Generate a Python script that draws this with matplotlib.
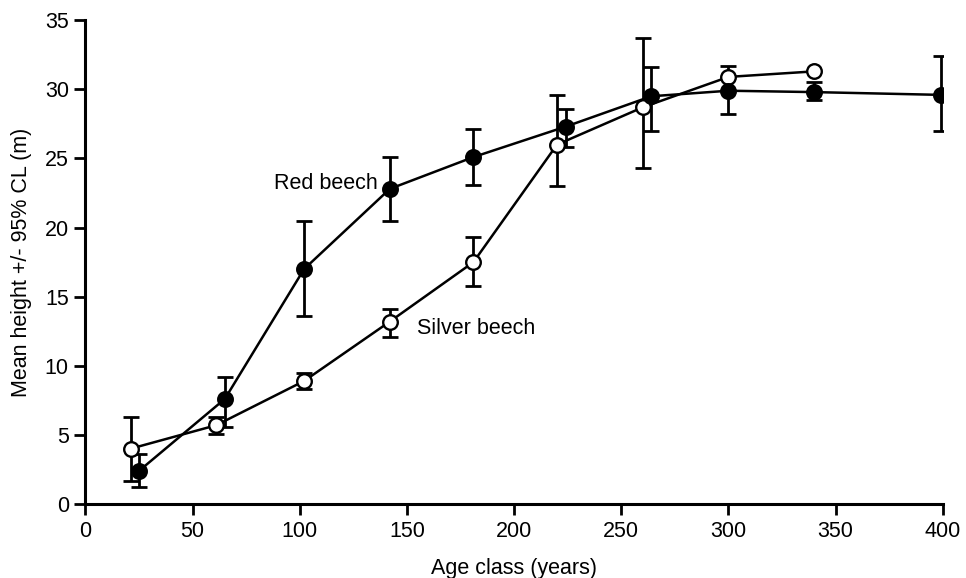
import numpy as np
import matplotlib
matplotlib.use("Agg")
import matplotlib.pyplot as plt

# red beech (filled circles)
redAge = [25, 65, 102, 142, 181, 224, 264, 300, 340, 399]
redHeight = [2.4, 7.6, 17.0, 22.8, 25.1, 27.3, 29.5, 29.9, 29.8, 29.6]
redLow = [1.2, 5.6, 13.6, 20.5, 23.1, 25.8, 27.0, 28.2, 29.2, 27.0]
redHigh = [3.6, 9.2, 20.5, 25.1, 27.1, 28.6, 31.6, 31.7, 30.5, 32.4]

# silver beech (open circles), no CL shown for last two classes
silverAge = [21, 61, 102, 142, 181, 220, 260, 300, 340]
silverHeight = [4.0, 5.7, 8.9, 13.2, 17.5, 26.0, 28.7, 30.9, 31.3]
silverLow = [1.7, 5.1, 8.3, 12.1, 15.8, 23.0, 24.3, np.nan, np.nan]
silverHigh = [6.3, 6.3, 9.45, 14.1, 19.3, 29.6, 33.7, np.nan, np.nan]

xTicks = [0, 50, 100, 150, 200, 250, 300, 350, 400]
yTicks = [0, 5, 10, 15, 20, 25, 30, 35]

plt.rcParams['font.family'] = ['Liberation Sans', 'DejaVu Sans']
plt.rcParams['font.size'] = 15.5


def drawSeries(ax, age, height, low, high, face):
    age = np.array(age, dtype='float')
    height = np.array(height, dtype='float')
    low = np.array(low, dtype='float')
    high = np.array(high, dtype='float')
    ok = ~np.isnan(low)
    yerr = np.array([height[ok] - low[ok], high[ok] - height[ok]])
    ax.errorbar(age[ok], height[ok], yerr=yerr, fmt='none', ecolor='black',
                elinewidth=2.0, capsize=6, capthick=2.0, zorder=2)
    ax.plot(age, height, color='black', linewidth=1.8, marker='o',
            markersize=10.5, markerfacecolor=face, markeredgecolor='black',
            markeredgewidth=1.7, zorder=3)


fig = plt.figure(figsize=(9.66, 5.78), dpi=100)
ax = fig.add_axes([0.0885, 0.128, 0.8875, 0.837])

drawSeries(ax, silverAge, silverHeight, silverLow, silverHigh, 'white')
drawSeries(ax, redAge, redHeight, redLow, redHigh, 'black')

ax.text(88, 23.2, "Red beech", ha='left', va='center', fontsize=15.5)
ax.text(154.5, 12.7, "Silver beech", ha='left', va='center', fontsize=15.5)

ax.set_xlim(0, 400)
ax.set_ylim(0, 35)
ax.set_xticks(xTicks)
ax.set_yticks(yTicks)
ax.spines['top'].set_visible(False)
ax.spines['right'].set_visible(False)
ax.spines['left'].set_linewidth(2.2)
ax.spines['bottom'].set_linewidth(2.2)
ax.tick_params(direction='out', length=8, width=2.0, labelsize=15.5, pad=4)
ax.set_xlabel("Age class (years)", fontsize=15.5, labelpad=12)
ax.set_ylabel("Mean height +/- 95% CL (m)", fontsize=15.5, labelpad=9)
for s in ax.spines.values():
    s.set_clip_on(False)

fig.savefig("out.png", dpi=100)
plt.close(fig)
